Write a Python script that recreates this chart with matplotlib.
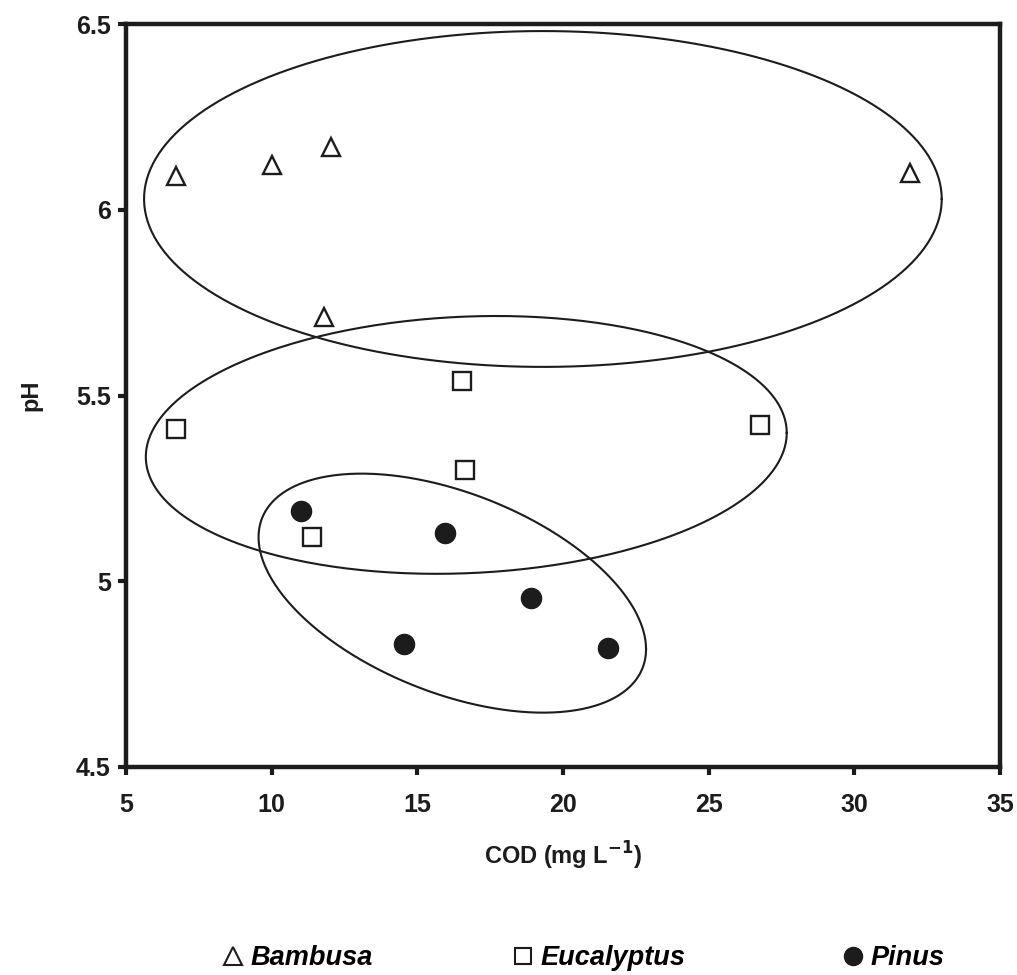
import numpy as np
import matplotlib
matplotlib.use("Agg")
import matplotlib.pyplot as plt
from matplotlib.lines import Line2D

plt.rcParams['font.family'] = ['Liberation Sans', 'DejaVu Sans']

# ---- data ----
bambusa_cod = [6.7, 10.0, 12.05, 31.9, 11.8]
bambusa_ph = [6.09, 6.12, 6.17, 6.10, 5.71]
eucalyptus_cod = [6.7, 16.55, 16.65, 11.4, 26.75]
eucalyptus_ph = [5.41, 5.54, 5.30, 5.12, 5.42]
pinus_cod = [11.0, 15.95, 18.9, 14.55, 21.55]
pinus_ph = [5.19, 5.13, 4.955, 4.83, 4.82]

# ellipses: centre x, centre y, half-width (x), half-height (y), tilt correlation
ell_cx = [19.31, 16.68, 16.20]
ell_cy = [6.029, 5.367, 4.968]
ell_hw = [13.69, 11.0, 6.65]
ell_hh = [0.452, 0.347, 0.3217]
ell_r = [0.0, 0.093, -0.4686]

x_ticks = [5, 10, 15, 20, 25, 30, 35]
y_ticks = [4.5, 5, 5.5, 6, 6.5]
y_tick_labels = ['4.5', '5', '5.5', '6', '6.5']

ink = '#1c1c1c'

fig = plt.figure(figsize=(10.17, 9.75), dpi=100)
ax = fig.add_axes([126 / 1017, 1 - 767 / 975, 874 / 1017, 743 / 975])

ax.plot(bambusa_cod, bambusa_ph, linestyle='none', marker='^', ms=13,
        mfc='none', mec=ink, mew=1.7, label='Bambusa')
ax.plot(eucalyptus_cod, eucalyptus_ph, linestyle='none', marker='s', ms=13,
        mfc='none', mec=ink, mew=1.7, label='Eucalyptus')
ax.plot(pinus_cod, pinus_ph, linestyle='none', marker='o', ms=14.5,
        mfc=ink, mec=ink, mew=1, label='Pinus')

t = np.linspace(0, 2 * np.pi, 400)
for cx, cy, hw, hh, r in zip(ell_cx, ell_cy, ell_hw, ell_hh, ell_r):
    q = np.array([[hw ** 2, r * hw * hh], [r * hw * hh, hh ** 2]])
    L = np.linalg.cholesky(q)
    pts = L @ np.vstack([np.cos(t), np.sin(t)])
    ax.plot(cx + pts[0], cy + pts[1], color=ink, lw=1.5)

ax.set_xlim(5, 35)
ax.set_ylim(4.5, 6.5)
ax.set_xticks(x_ticks)
ax.set_yticks(y_ticks)
ax.set_yticklabels(y_tick_labels)
ax.tick_params(direction='out', length=6, width=3, color=ink,
               labelsize=18, top=False, right=False)
ax.tick_params(axis='x', pad=13)
ax.tick_params(axis='y', pad=5)
for lab in ax.get_xticklabels() + ax.get_yticklabels():
    lab.set_fontweight('bold')
    lab.set_color(ink)
for sp in ax.spines.values():
    sp.set_linewidth(3.2)
    sp.set_color(ink)

ax.set_xlabel('COD (mg L$^{\\mathbf{-1}}$)', fontsize=17, fontweight='bold',
              color=ink, labelpad=16)
ax.set_ylabel('pH', fontsize=17, fontweight='bold', color=ink, labelpad=24)

handles = [
    Line2D([], [], linestyle='none', marker='^', ms=13, mfc='none', mec=ink, mew=1.5),
    Line2D([], [], linestyle='none', marker='s', ms=12, mfc='none', mec=ink, mew=1.5),
    Line2D([], [], linestyle='none', marker='o', ms=13, mfc=ink, mec=ink),
]
names = ['Bambusa', 'Eucalyptus', 'Pinus']
xpos = [222 / 1017, 512 / 1017, 842 / 1017]
for h, n, xp in zip(handles, names, xpos):
    leg = fig.legend([h], [n], loc='center left', bbox_to_anchor=(xp, 1 - 958 / 975),
                     frameon=False, handlelength=0.8, handletextpad=0.25,
                     borderpad=0, borderaxespad=0,
                     prop={'size': 19.5, 'weight': 'bold', 'style': 'italic'})

fig.savefig('out.png', dpi=100, facecolor='white')
